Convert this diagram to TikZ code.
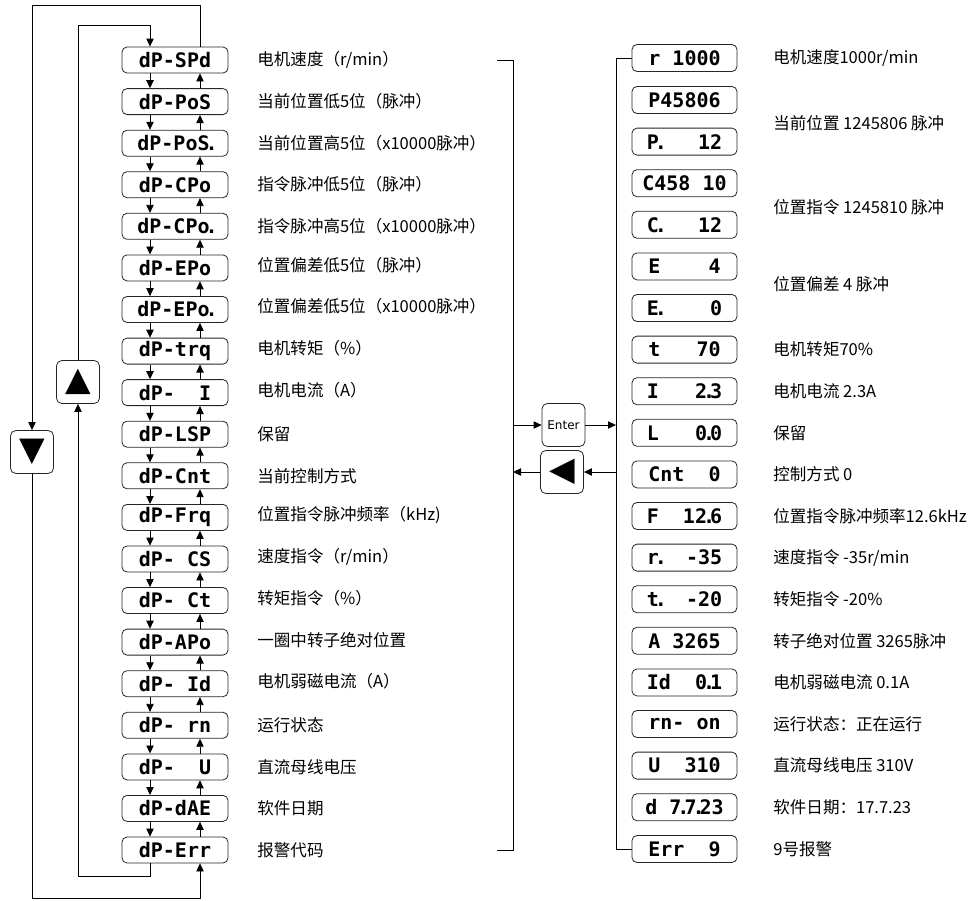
\documentclass[tikz,border=0pt]{standalone}
\usepackage{fontspec}
\setmainfont{Liberation Sans}
\newfontfamily\cjk{Noto Sans CJK SC}
\newfontfamily\seg{DejaVu Sans Mono}
\newfontfamily\keyfont{DejaVu Sans}
\newcommand{\segdot}{\kern-0.2em.\kern-0.25em}
\usetikzlibrary{arrows.meta}

\begin{document}
\begin{tikzpicture}[x=0.75pt, y=-0.75pt, line width=0.6pt]
	\tikzstyle{panel}=[draw=black!85, rounded corners=3.75pt, minimum width=79.5pt, minimum height=19.5pt, inner sep=0pt, font=\seg\bfseries\fontsize{15}{15}\selectfont];
	\tikzstyle{value}=[panel, minimum width=78.75pt, minimum height=20.25pt];
	\tikzstyle{desc}=[anchor=west, inner sep=0pt, font=\cjk\fontsize{12.4}{14}\selectfont];
	\tikzstyle{key}=[draw=black!85, rounded corners=4pt, minimum size=32.25pt, inner sep=0pt, font=\keyfont\fontsize{25}{25}\selectfont];
	\tikzstyle{arr}=[-{Triangle[length=6pt, width=5.5pt]}];

   \useasboundingbox (0, 0) rectangle (978, 900);

   % parameter list
   \node (l1)  at (175, 60)    [panel] {dP-SPd};
   \node (l2)  at (175, 101.6) [panel] {dP-PoS};
   \node (l3)  at (175, 143.2) [panel] {dP-PoS\segdot};
   \node (l4)  at (175, 184.7) [panel] {dP-CPo};
   \node (l5)  at (175, 226.3) [panel] {dP-CPo\segdot};
   \node (l6)  at (175, 267.9) [panel] {dP-EPo};
   \node (l7)  at (175, 309.5) [panel] {dP-EPo\segdot};
   \node (l8)  at (175, 351.1) [panel] {dP-trq};
   \node (l9)  at (175, 392.6) [panel] {dP-~~I};
   \node (l10) at (175, 434.2) [panel] {dP-LSP};
   \node (l11) at (175, 475.8) [panel] {dP-Cnt};
   \node (l12) at (175, 517.4) [panel] {dP-Frq};
   \node (l13) at (175, 559.0) [panel] {dP-~CS};
   \node (l14) at (175, 600.5) [panel] {dP-~Ct};
   \node (l15) at (175, 642.1) [panel] {dP-APo};
   \node (l16) at (175, 683.7) [panel] {dP-~Id};
   \node (l17) at (175, 725.3) [panel] {dP-~rn};
   \node (l18) at (175, 766.9) [panel] {dP-~~U};
   \node (l19) at (175, 808.4) [panel] {dP-dAE};
   \node (l20) at (175, 850)   [panel] {dP-Err};

   \node (tl1)  at (257, 60)    [desc] {电机速度（r/min）};
   \node (tl2)  at (257, 101.6) [desc] {当前位置低5位（脉冲）};
   \node (tl3)  at (257, 143.2) [desc] {当前位置高5位（x10000脉冲）};
   \node (tl4)  at (257, 184.7) [desc] {指令脉冲低5位（脉冲）};
   \node (tl5)  at (257, 226.3) [desc] {指令脉冲高5位（x10000脉冲）};
   \node (tl6)  at (257, 265)   [desc] {位置偏差低5位（脉冲）};
   \node (tl7)  at (257, 306)   [desc] {位置偏差低5位（x10000脉冲）};
   \node (tl8)  at (257, 348)   [desc] {电机转矩（\%）};
   \node (tl9)  at (257, 390)   [desc] {电机电流（A）};
   \node (tl10) at (257, 434.2) [desc] {保留};
   \node (tl11) at (257, 475.8) [desc] {当前控制方式};
   \node (tl12) at (257, 515)   [desc] {位置指令脉冲频率（kHz)};
   \node (tl13) at (257, 557)   [desc] {速度指令（r/min）};
   \node (tl14) at (257, 598)   [desc] {转矩指令（\%）};
   \node (tl15) at (257, 640)   [desc] {一圈中转子绝对位置};
   \node (tl16) at (257, 681)   [desc] {电机弱磁电流（A）};
   \node (tl17) at (257, 725.3) [desc] {运行状态};
   \node (tl18) at (257, 766.9) [desc] {直流母线电压};
   \node (tl19) at (257, 808.4) [desc] {软件日期};
   \node (tl20) at (257, 850)   [desc] {报警代码};

   % values shown after Enter
   \node (r1)  at (684.5, 58)    [value] {r~1000};
   \node (r2)  at (684.5, 100)   [value] {P45806};
   \node (r3)  at (684.5, 141.6) [value] {P\segdot~~~12};
   \node (r4)  at (684.5, 183.2) [value] {C458~10};
   \node (r5)  at (684.5, 224.8) [value] {C\segdot~~~12};
   \node (r6)  at (684.5, 266.4) [value] {E~~~~4};
   \node (r7)  at (684.5, 308)   [value] {E\segdot~~~~0};
   \node (r8)  at (684.5, 349.6) [value] {t~~~70};
   \node (r9)  at (684.5, 391.2) [value] {I~~~2\segdot3};
   \node (r10) at (684.5, 432.8) [value] {L~~~0\segdot0};
   \node (r11) at (684.5, 474.4) [value] {Cnt~~0};
   \node (r12) at (684.5, 516)   [value] {F~~12\segdot6};
   \node (r13) at (684.5, 557.6) [value] {r\segdot~~-35};
   \node (r14) at (684.5, 599.2) [value] {t\segdot~~-20};
   \node (r15) at (684.5, 640.8) [value] {A~3265};
   \node (r16) at (684.5, 682.4) [value] {Id~~0\segdot1};
   \node (r17) at (684.5, 724)   [value] {rn-~on};
   \node (r18) at (684.5, 765.6) [value] {U~~310};
   \node (r19) at (684.5, 807.2) [value] {d~7\segdot7\segdot23};
   \node (r20) at (684.5, 849)   [value] {Err~~9};

   \node (tr1)  at (773, 58)    [desc] {电机速度1000r/min};
   \node (tr3)  at (773, 123)   [desc] {当前位置 1245806 脉冲};
   \node (tr5)  at (773, 207)   [desc] {位置指令 1245810 脉冲};
   \node (tr7)  at (773, 284)   [desc] {位置偏差 4 脉冲};
   \node (tr8)  at (773, 349.6) [desc] {电机转矩70\%};
   \node (tr9)  at (773, 391.2) [desc] {电机电流 2.3A};
   \node (tr10) at (773, 432.8) [desc] {保留};
   \node (tr11) at (773, 474.4) [desc] {控制方式 0};
   \node (tr12) at (773, 516)   [desc] {位置指令脉冲频率12.6kHz};
   \node (tr13) at (773, 557.6) [desc] {速度指令 -35r/min};
   \node (tr14) at (773, 599.2) [desc] {转矩指令 -20\%};
   \node (tr15) at (773, 640.8) [desc] {转子绝对位置 3265脉冲};
   \node (tr16) at (773, 682.4) [desc] {电机弱磁电流 0.1A};
   \node (tr17) at (773, 724)   [desc] {运行状态：正在运行};
   \node (tr18) at (773, 765.6) [desc] {直流母线电压 310V};
   \node (tr19) at (773, 807.2) [desc] {软件日期：17.7.23};
   \node (tr20) at (773, 849)   [desc] {9号报警};

   % keys
   \node (upkey) at (78, 382)    [key] {▲};
   \node (dnkey) at (32, 452)    [key] {▼};
   \node (enter) at (563.5, 425) [key, font=\keyfont\fontsize{9}{9}\selectfont] {Enter};
   \node (back)  at (562, 472)   [key] {◀};

   \coordinate (dncol) at (150, 0);
   \coordinate (upcol) at (200, 0);
   \coordinate (otop) at (32, 5);
   \coordinate (obot) at (200, 898);
   \coordinate (itop) at (150, 25);
   \coordinate (ibot) at (78, 876);
   \coordinate (bus) at (513, 0);
   \coordinate (rbus) at (616, 0);
   \coordinate (brt) at (497, 60);
   \coordinate (brb) at (497, 850);

   \foreach \i [evaluate=\i as \j using int(\i+1)] in {1,...,19} {
      \draw[arr] (l\i.south -| dncol) -- (l\j.north -| dncol);
      \draw[arr] (l\j.north -| upcol) -- (l\i.south -| upcol);
   }

   \draw[arr] (l1.north -| upcol) |- (otop) -- (dnkey.north);
   \draw[arr] (dnkey.south) |- (obot) -- (l20.south -| upcol);
   \draw[arr] (l20.south -| dncol) |- (ibot) -- (upkey.south);
   \draw[arr] (upkey.north) |- (itop) -- (l1.north -| dncol);

   \draw (brt) -| (bus |- brb) -- (brb);
   \draw (r1.west) -| (rbus |- r20) -- (r20.west);

   \draw[arr] (bus |- enter) -- (enter);
   \draw[arr] (enter) -- (rbus |- enter);
   \draw[arr] (rbus |- back) -- (back);
   \draw[arr] (back) -- (bus |- back);

\end{tikzpicture}
\end{document}
